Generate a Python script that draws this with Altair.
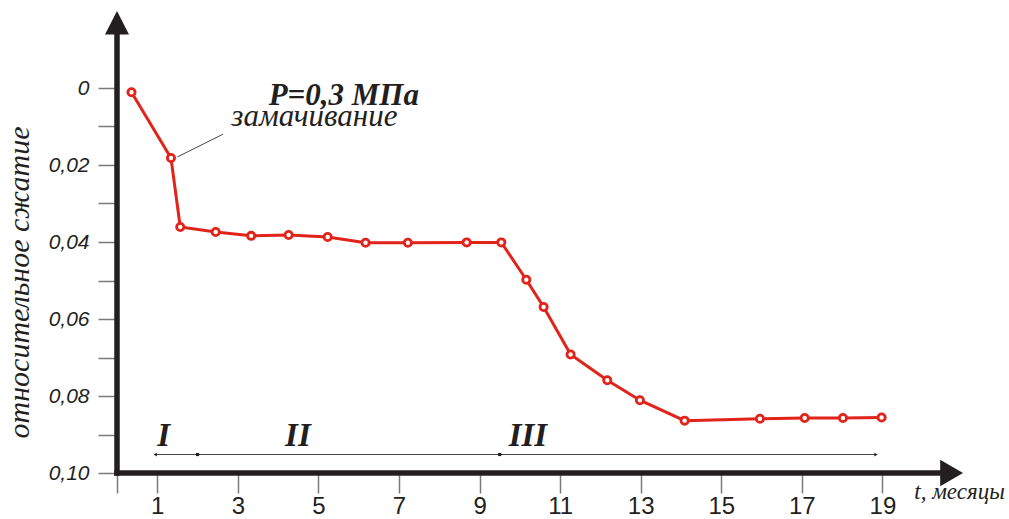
import altair as alt
import pandas as pd

# ---- data ----
t_months = [0.36, 1.34, 1.57, 2.45, 3.33, 4.26, 5.23, 6.17, 7.22, 8.68, 9.54,
            10.16, 10.59, 11.26, 12.17, 12.98, 14.09, 15.96, 17.07, 18.02, 18.98]
compression = [0.0011, 0.0182, 0.0361, 0.0374, 0.0384, 0.0382, 0.0387, 0.0402,
               0.0402, 0.0401, 0.0401, 0.0498, 0.0569, 0.0692, 0.0759, 0.0811,
               0.0864, 0.0859, 0.0857, 0.0857, 0.0856]

x_ticks = [0, 1, 3, 5, 7, 9, 11, 13, 15, 17, 19]
y_ticks = [0, 0.01, 0.02, 0.03, 0.04, 0.05, 0.06, 0.07, 0.08, 0.09, 0.10]

period_names = ["I", "II", "III"]
period_label_x = [1.16, 4.49, 10.2]
period_label_y = [0.0931, 0.0931, 0.0931]
period_bounds = [2.0, 9.5]
period_span = [0.95, 18.84]
period_line_y = 0.0952

annot_title = "P=0,3 МПа"
annot_title_pos = [5.63, 0.0044]
annot_note = "замачивание"
annot_note_pos = [4.9, 0.0099]
leader = [1.50, 0.0179, 2.63, 0.0120]

X_DOMAIN = [0, 21]
Y_DOMAIN = [-0.02, 0.10]

RED = "#e2231a"
INK = "#231f20"
TICK = "#7a7a7a"

xs = alt.Scale(domain=X_DOMAIN, nice=False, zero=False)
ys = alt.Scale(domain=Y_DOMAIN, nice=False, zero=False, reverse=True)

x_axis = alt.Axis(
    values=x_ticks, domain=False, grid=False, tickSize=20, tickColor=TICK,
    tickWidth=1.5, labelFont="Liberation Sans", labelFontSize=24,
    labelColor=INK, labelPadding=1, labelFlush=False, labelOverlap=False,
    labelExpr="datum.value == 0 ? '' : datum.label",
    title="t, месяцы", titleFont="Liberation Serif", titleFontStyle="italic",
    titleFontWeight="normal", titleFontSize=23, titleColor=INK,
    titleX=842, titleY=18, titleAlign="center", titleBaseline="middle",
)

y_axis = alt.Axis(
    values=y_ticks, domain=False, grid=False, tickSize=19, tickColor=TICK,
    tickWidth=1.5, labelFont="Liberation Sans", labelFontStyle="italic",
    labelFontSize=21, labelColor=INK, labelPadding=9, labelFlush=False,
    labelOverlap=False,
    labelExpr="datum.value == 0 ? '0' : (round(datum.value*100) % 2 == 0 ? replace(format(datum.value, '.2f'), '.', ',') : '')",
    title="относительное сжатие", titleFont="Liberation Serif",
    titleFontStyle="italic", titleFontWeight="normal", titleFontSize=30,
    titleColor=INK, titleX=-98, titleY=271, titleAngle=270,
    titleAlign="center", titleBaseline="middle",
)


def X(field="t"):
    return alt.X(f"{field}:Q", scale=xs, axis=x_axis)


def Y(field="s"):
    return alt.Y(f"{field}:Q", scale=ys, axis=y_axis)


df = pd.DataFrame({"t": t_months, "s": compression})

line = alt.Chart(df).mark_line(color=RED, strokeWidth=3).encode(x=X(), y=Y())
points = alt.Chart(df).mark_point(
    shape="circle", size=52, filled=True, fill="white", stroke=RED,
    strokeWidth=2.8, opacity=1
).encode(x=X(), y=Y())

# thick axis lines with arrows
ax_v = alt.Chart(pd.DataFrame({"t": [0], "s": [Y_DOMAIN[1]], "s2": [-0.016]})).mark_rule(
    color=INK, strokeWidth=5.5, strokeCap="square"
).encode(x=X(), y=Y(), y2="s2:Q")
ax_h = alt.Chart(pd.DataFrame({"t": [0], "t2": [20.5], "s": [Y_DOMAIN[1]]})).mark_rule(
    color=INK, strokeWidth=5.5, strokeCap="square"
).encode(x=X(), x2="t2:Q", y=Y())
arrow_up = alt.Chart(pd.DataFrame({"t": [0], "s": [Y_DOMAIN[0]]})).mark_point(
    shape="M0,0L0.5,0.98L-0.5,0.98Z", size=2304, filled=True, color=INK, opacity=1
).encode(x=X(), y=Y())
arrow_right = alt.Chart(pd.DataFrame({"t": [X_DOMAIN[1]], "s": [Y_DOMAIN[1]]})).mark_point(
    shape="M0,0L-0.95,-0.55L-0.95,0.55Z", size=2304, filled=True, color=INK, opacity=1
).encode(x=X(), y=Y())

# period span line
span = alt.Chart(pd.DataFrame({"t": [period_span[0]], "t2": [period_span[1]], "s": [period_line_y]})).mark_rule(
    color="#444444", strokeWidth=1
).encode(x=X(), x2="t2:Q", y=Y())
bounds = alt.Chart(pd.DataFrame({"t": period_bounds, "s": [period_line_y] * len(period_bounds)})).mark_point(
    shape="square", size=10, filled=True, color=INK, opacity=1
).encode(x=X(), y=Y())
ends = alt.Chart(pd.DataFrame({"t": period_span, "s": [period_line_y] * 2, "sh": ["triangle-left", "triangle-right"]})).mark_point(
    size=14, filled=True, color=INK, opacity=1
).encode(x=X(), y=Y(), shape=alt.Shape("sh:N", scale=None, legend=None))
roman = alt.Chart(pd.DataFrame({"t": period_label_x, "s": period_label_y, "lab": period_names})).mark_text(
    font="Liberation Serif", fontStyle="italic", fontWeight="bold", fontSize=33,
    color=INK, align="center", baseline="alphabetic"
).encode(x=X(), y=Y(), text="lab:N")

# annotations
title_txt = alt.Chart(pd.DataFrame({"t": [annot_title_pos[0]], "s": [annot_title_pos[1]], "lab": [annot_title]})).mark_text(
    font="Liberation Serif", fontStyle="italic", fontWeight="bold", fontSize=31,
    color=INK, align="center", baseline="alphabetic"
).encode(x=X(), y=Y(), text="lab:N")
note_txt = alt.Chart(pd.DataFrame({"t": [annot_note_pos[0]], "s": [annot_note_pos[1]], "lab": [annot_note]})).mark_text(
    font="Liberation Serif", fontStyle="italic", fontSize=31,
    color=INK, align="center", baseline="alphabetic"
).encode(x=X(), y=Y(), text="lab:N")
leader_line = alt.Chart(pd.DataFrame({"t": [leader[0]], "s": [leader[1]], "t2": [leader[2]], "s2": [leader[3]]})).mark_rule(
    color="#444444", strokeWidth=1
).encode(x=X(), y=Y(), x2="t2:Q", y2="s2:Q")

chart = alt.layer(
    line, ax_v, ax_h, arrow_up, arrow_right, span, bounds, ends, roman,
    leader_line, title_txt, note_txt, points
).properties(
    width=846, height=462,
    autosize=alt.AutoSizeParams(type="none"),
    padding={"left": 117, "top": 11, "right": 46, "bottom": 46},
    background="white",
).configure_view(stroke=None)

chart.save("out.html", embed_options={"renderer": "svg", "actions": False})
